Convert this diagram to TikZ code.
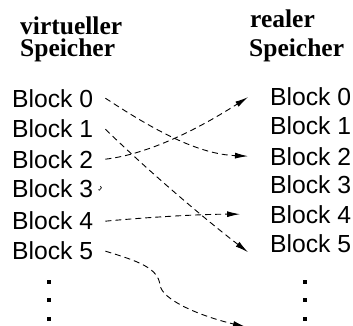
\documentclass[tikz,border=0pt]{standalone}
\usepackage{fontspec}
\setmainfont{Liberation Serif}
\newfontfamily\blockfont{Liberation Sans}
\usetikzlibrary{arrows.meta}
\begin{document}
\begin{tikzpicture}[x=1pt,y=-1pt,
  head/.style={anchor=base west,inner sep=0pt,text height=16.5pt,text depth=5pt,font=\fontsize{25.5}{25}\selectfont\bfseries},
  blk/.style={anchor=base west,inner sep=0pt,font=\fontsize{24.7}{25}\blockfont},
  dotsq/.style={fill=black,inner sep=0pt,minimum size=4pt,rectangle},
  conn/.style={dashed,dash pattern=on 6pt off 4pt,line width=0.9pt,-{Latex[length=13pt,width=6pt]}}]
\useasboundingbox (0,0) rectangle (353,326);
% headings
\node[head] (hv1) at (20,35) {virtueller};
\node[head] (hv2) at (20,57) {Speicher};
\node[head] (hr1) at (250,28) {realer};
\node[head] (hr2) at (249,57) {Speicher};
% left blocks
\node[blk] (L0) at (12,107) {Block 0};
\node[blk] (L1) at (12,137) {Block 1};
\node[blk] (L2) at (12,168) {Block 2};
\node[blk] (L3) at (12,197) {Block 3};
\node[blk] (L4) at (12,229) {Block 4};
\node[blk] (L5) at (12,259) {Block 5};
% right blocks
\node[blk] (R0) at (270,106) {Block 0};
\node[blk] (R1) at (270,134) {Block 1};
\node[blk] (R2) at (270,165) {Block 2};
\node[blk] (R3) at (270,193) {Block 3};
\node[blk] (R4) at (270,223) {Block 4};
\node[blk] (R5) at (270,252) {Block 5};
% dots
\node[dotsq] (ld1) at (49,282) {};
\node[dotsq] (ld2) at (49,300) {};
\node[dotsq] (ld3) at (49,319) {};
\node[dotsq] (rd1) at (305,282) {};
\node[dotsq] (rd2) at (305,300) {};
\node[dotsq] (rd3) at (305,319) {};
\coordinate (R6) at (246,327);
% connectors
\draw[conn] ([xshift=12pt]L0.east) .. controls +(53,35) and +(-48,-2) .. ([xshift=-22pt]R2.west);
\draw[conn] ([shift={(12,1)}]L1.east) .. controls +(43,42) and +(-43,-33) .. ([shift={(-22,9)}]R5.west);
\draw[conn] ([xshift=12pt]L2.east) .. controls +(43,-5) and +(-50,32) .. ([xshift=-22pt]R0.west);
\draw[conn] ([shift={(12,1)}]L4.east) .. controls +(43,-4) and +(-40,0) .. ([xshift=-30pt]R4.west);
\draw[conn] ([shift={(12,1)}]L5.east) .. controls +(33,10) and +(-2,-17) .. (160,285) .. controls +(2,15) and +(-46,-11) .. (R6);
% small mark at Block 3
\draw[line width=0.7pt] ([shift={(7,-2)}]L3.east) .. controls +(2,0) and +(2,-1) .. ([shift={(6,2)}]L3.east) -- +(-1,-0.5);
\end{tikzpicture}
\end{document}
